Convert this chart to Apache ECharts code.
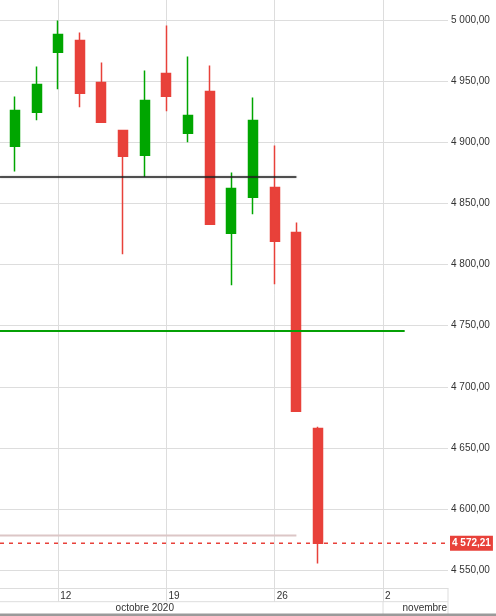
<!DOCTYPE html>
<html><head><meta charset="utf-8">
<script src="https://cdn.jsdelivr.net/npm/echarts@6/dist/echarts.min.js"></script>
<style>html,body{margin:0;padding:0;background:#fff}#c{width:496px;height:616px}</style>
</head><body><div id="c"></div>
<script>
// trading-day index (12 oct 2020 = 0)
const dayIndex = [-2, -1, 0, 1, 2, 3, 4, 5, 6, 7, 8, 9, 10, 11, 12];
const dates = ['08/10','09/10','12/10','13/10','14/10','15/10','16/10','19/10','20/10','21/10','22/10','23/10','26/10','27/10','28/10'];
const opens  = [4896.7, 4924.5, 4973.5, 4983.1, 4948.7, 4909.5, 4889.3, 4956.1, 4907.3, 4941.4, 4825.5, 4855.0, 4862.9, 4826.1, 4665.9];
const closes = [4925.8, 4947.1, 4988.0, 4940.0, 4916.3, 4888.5, 4934.0, 4937.5, 4921.8, 4832.9, 4862.1, 4917.7, 4819.0, 4680.0, 4572.21];
const lows   = [4876.0, 4917.9, 4943.3, 4928.5, 4916.3, 4808.4, 4871.6, 4925.3, 4899.9, 4832.9, 4783.0, 4841.1, 4783.8, 4680.0, 4555.7];
const highs  = [4937.3, 4961.8, 4999.4, 4989.6, 4965.1, 4909.5, 4958.5, 4995.3, 4970.0, 4962.6, 4875.2, 4936.5, 4897.2, 4834.3, 4667.5];
const xTickValues = [0, 5, 10, 15];
const xTickLabels = ['12', '19', '26', '2'];
const monthLabels = ['octobre 2020', 'novembre'];
const monthAt = [4, 18];
const monthBreak = 15;
const levelValues = [4871.6, 4745.7, 4578.6];
const levelEnds = [11, 16, 11];
const lastPrice = 4572.21;
const xMin = -2.686, xMax = 18;
const yMin = 4535.4, yMax = 5016.2;

const RED = '#e8413a', GREEN = '#00a600';
const FONT = 'Liberation Sans, Arial, sans-serif';

function fmt(v) {
  const s = (Math.round(v * 100) / 100).toFixed(2);
  let [i, d] = s.split('.');
  i = i.replace(/\B(?=(\d{3})+(?!\d))/g, ' ');
  return i + ',' + d;
}

const chart = echarts.init(document.getElementById('c'), null, {renderer: 'canvas'});

const levelStyles = [
  {color: '#222', width: 1.5, type: 'solid', shadowBlur: 2, shadowColor: 'rgba(0,0,0,0.35)'},
  {color: '#05a005', width: 2, type: 'solid'},
  {color: '#dcc6c6', width: 2, type: 'solid'}
];

const levelSeries = levelValues.map((v, i) => ({
  type: 'line', silent: true, symbol: 'none', animation: false, z: 3,
  data: [[xMin, v], [levelEnds[i], v]],
  lineStyle: levelStyles[i]
}));

const priceSeries = {
  type: 'line', silent: true, symbol: 'none', animation: false, z: 4,
  color: RED,
  data: [[xMin, lastPrice], [xMax, lastPrice]],
  lineStyle: {color: RED, width: 1.3, type: [4, 5]},
  endLabel: {
    show: true, distance: 2,
    formatter: () => fmt(lastPrice),
    backgroundColor: RED, color: '#fff', fontWeight: 'bold',
    fontSize: 10, fontFamily: FONT, padding: [3, 2, 2, 2]
  }
};

chart.setOption({
  animation: false,
  grid: {left: 0, right: 48, top: 0, bottom: 27.7},
  xAxis: {
    type: 'value', min: xMin, max: xMax,
    minInterval: 5, maxInterval: 5,
    axisLine: {show: true, lineStyle: {color: '#ddd', width: 1}},
    axisTick: {show: true, length: 13.4, inside: false, lineStyle: {color: '#ddd'}},
    axisLabel: {
      show: true, showMinLabel: false, showMaxLabel: false,
      align: 'left', margin: 3, padding: [0, 0, 0, 2],
      color: '#333', fontSize: 10, fontFamily: FONT,
      formatter: v => {
        const k = xTickValues.indexOf(Math.round(v));
        return (k >= 0 && Math.abs(v - Math.round(v)) < 1e-6) ? xTickLabels[k] : '';
      }
    },
    splitLine: {show: true, showMinLine: false, showMaxLine: false, lineStyle: {color: '#ddd', width: 1}}
  },
  yAxis: {
    type: 'value', position: 'right', min: yMin, max: yMax,
    minInterval: 50, maxInterval: 50, scale: true,
    axisLine: {show: true, lineStyle: {color: '#ddd'}},
    axisTick: {show: false},
    axisLabel: {
      show: true, showMinLabel: false, showMaxLabel: false,
      margin: 3, color: '#333', fontSize: 10, fontFamily: FONT,
      formatter: v => (Math.abs(v / 50 - Math.round(v / 50)) < 1e-6 ? fmt(v) : '')
    },
    splitLine: {show: true, showMinLine: false, showMaxLine: false, lineStyle: {color: '#ddd', width: 1}}
  },
  series: [{
    type: 'candlestick', z: 2,
    encode: {x: 0, y: [1, 2, 3, 4]},
    data: dayIndex.map((d, i) => [d, opens[i], closes[i], lows[i], highs[i]]),
    barWidth: 9.5,
    itemStyle: {color: GREEN, color0: RED, borderColor: GREEN, borderColor0: RED, borderWidth: 1.5}
  }].concat(levelSeries, [priceSeries])
});

const px = v => chart.convertToPixel({xAxisIndex: 0}, v);
const yb = chart.convertToPixel({yAxisIndex: 0}, yMin);
const rowY = yb + 13.4;
const right = px(xMax);
chart.setOption({
  graphic: [
    {type: 'line', silent: true, shape: {x1: 0, y1: rowY, x2: right, y2: rowY}, style: {stroke: '#ddd', lineWidth: 1}},
    {type: 'line', silent: true, shape: {x1: right, y1: yb, x2: right, y2: 614}, style: {stroke: '#ddd', lineWidth: 1}},
    {type: 'line', silent: true, shape: {x1: px(monthBreak), y1: rowY, x2: px(monthBreak), y2: 614}, style: {stroke: '#ddd', lineWidth: 1}},
    {type: 'text', silent: true, x: px(monthAt[0]), y: rowY + 6.5, style: {text: monthLabels[0], align: 'center', verticalAlign: 'middle', fill: '#333', fontSize: 10, fontFamily: FONT}},
    {type: 'text', silent: true, x: px(monthAt[1]) - 1, y: rowY + 6.5, style: {text: monthLabels[1], align: 'right', verticalAlign: 'middle', fill: '#333', fontSize: 10, fontFamily: FONT}},
    {type: 'rect', silent: true, shape: {x: 0, y: 613.5, width: 496, height: 2.5}, style: {fill: '#9a9a9a'}}
  ]
});
</script>
</body></html>
